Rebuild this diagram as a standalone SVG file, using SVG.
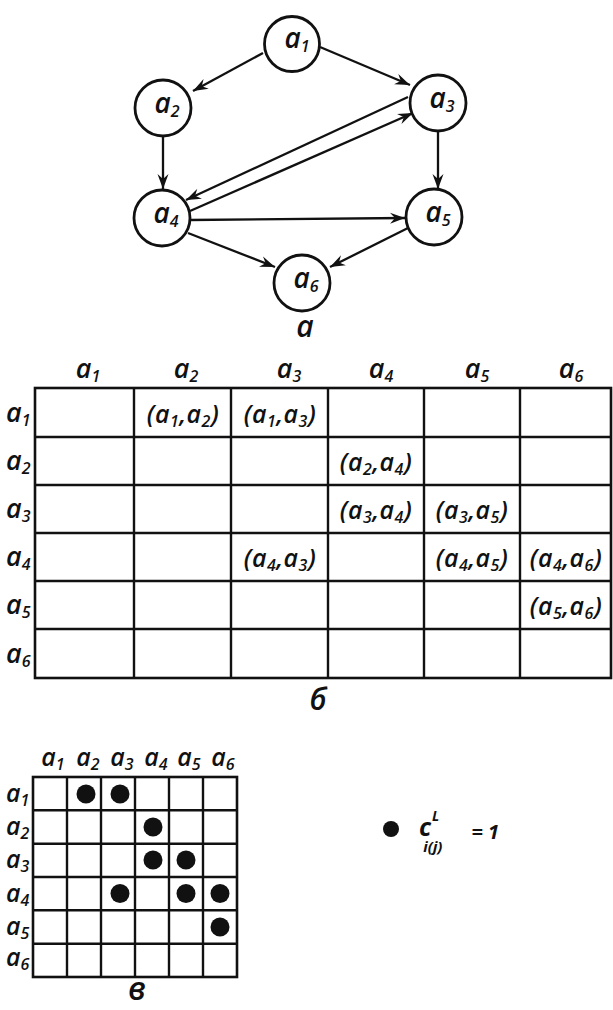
<svg xmlns="http://www.w3.org/2000/svg" width="613" height="1010" viewBox="0 0 613 1010">
<style>
text{font-family:"Open Sans","DejaVu Sans",sans-serif;font-style:italic;font-weight:600;fill:#111}
.nl{font-size:28px}
.tl{font-size:27px}
.cl{font-size:25px;letter-spacing:0.5px}
.ml{font-size:25px}
.s{font-size:16px}
.node circle{fill:#fff;stroke:#111;stroke-width:2.8}
.edge{stroke:#111;stroke-width:2.3;fill:none;marker-end:url(#ah)}
.grid line{stroke:#111;stroke-width:2.4}
.grid rect{fill:none;stroke:#111;stroke-width:2.6}
.dot{fill:#111}
.cap{font-size:30px}
.lg{font-weight:700}
</style>
<defs>
<marker id="ah" markerUnits="userSpaceOnUse" viewBox="-16 -6 17 12" markerWidth="17" markerHeight="12" refX="0" refY="0" orient="auto">
<path d="M0,0 L-15,-5.5 L-10,0 L-15,5.5 Z" fill="#111"/>
</marker>
</defs>
<rect width="613" height="1010" fill="#fff"/>

<g id="connectors">
<line class="edge" x1="263" y1="53" x2="193" y2="91"/>
<line class="edge" x1="320" y1="47" x2="410" y2="85"/>
<line class="edge" x1="163" y1="136" x2="163" y2="189"/>
<line class="edge" x1="438" y1="131" x2="438" y2="189"/>
<line class="edge" x1="408" y1="97" x2="186" y2="200"/>
<line class="edge" x1="190" y1="211" x2="413" y2="113"/>
<line class="edge" x1="190" y1="220" x2="405" y2="218"/>
<line class="edge" x1="188" y1="233" x2="275" y2="267"/>
<line class="edge" x1="408" y1="228" x2="330" y2="267"/>
</g>

<g id="a1" class="node"><circle cx="292" cy="44" r="27.5"/><text class="nl" x="297" y="48" text-anchor="middle">a<tspan class="s" dy="4">1</tspan></text></g>
<g id="a2" class="node"><circle cx="163" cy="108" r="28"/><text class="nl" x="167" y="113" text-anchor="middle">a<tspan class="s" dy="4">2</tspan></text></g>
<g id="a3" class="node"><circle cx="438" cy="103" r="28"/><text class="nl" x="442" y="108" text-anchor="middle">a<tspan class="s" dy="4">3</tspan></text></g>
<g id="a4" class="node"><circle cx="162" cy="218" r="28"/><text class="nl" x="166" y="223" text-anchor="middle">a<tspan class="s" dy="4">4</tspan></text></g>
<g id="a5" class="node"><circle cx="434" cy="217" r="28"/><text class="nl" x="438" y="222" text-anchor="middle">a<tspan class="s" dy="4">5</tspan></text></g>
<g id="a6" class="node"><circle cx="302" cy="283" r="28"/><text class="nl" x="306" y="288" text-anchor="middle">a<tspan class="s" dy="4">6</tspan></text></g>
<text class="cap" x="305" y="337" text-anchor="middle">а</text>

<g id="table" class="grid">
<rect x="35" y="388" width="576" height="290"/>
<line x1="134" y1="388" x2="134" y2="678"/>
<line x1="231" y1="388" x2="231" y2="678"/>
<line x1="328" y1="388" x2="328" y2="678"/>
<line x1="424" y1="388" x2="424" y2="678"/>
<line x1="520" y1="388" x2="520" y2="678"/>
<line x1="35" y1="437" x2="611" y2="437"/>
<line x1="35" y1="485" x2="611" y2="485"/>
<line x1="35" y1="533" x2="611" y2="533"/>
<line x1="35" y1="581" x2="611" y2="581"/>
<line x1="35" y1="629" x2="611" y2="629"/>
</g>
<g id="table-labels">
<text class="tl" x="88" y="378" text-anchor="middle">a<tspan class="s" dy="4">1</tspan></text>
<text class="tl" x="186" y="378" text-anchor="middle">a<tspan class="s" dy="4">2</tspan></text>
<text class="tl" x="289" y="378" text-anchor="middle">a<tspan class="s" dy="4">3</tspan></text>
<text class="tl" x="381" y="378" text-anchor="middle">a<tspan class="s" dy="4">4</tspan></text>
<text class="tl" x="477" y="378" text-anchor="middle">a<tspan class="s" dy="4">5</tspan></text>
<text class="tl" x="571" y="378" text-anchor="middle">a<tspan class="s" dy="4">6</tspan></text>
<text class="tl" x="6" y="422">a<tspan class="s" dy="4">1</tspan></text>
<text class="tl" x="6" y="470">a<tspan class="s" dy="4">2</tspan></text>
<text class="tl" x="6" y="518">a<tspan class="s" dy="4">3</tspan></text>
<text class="tl" x="6" y="566">a<tspan class="s" dy="4">4</tspan></text>
<text class="tl" x="6" y="614">a<tspan class="s" dy="4">5</tspan></text>
<text class="tl" x="6" y="663">a<tspan class="s" dy="4">6</tspan></text>
</g>
<g id="table-cells">
<text class="cl" x="183" y="423" text-anchor="middle">(a<tspan class="s" dy="4">1</tspan><tspan dy="-4">,a</tspan><tspan class="s" dy="4">2</tspan><tspan dy="-4">)</tspan></text>
<text class="cl" x="280" y="423" text-anchor="middle">(a<tspan class="s" dy="4">1</tspan><tspan dy="-4">,a</tspan><tspan class="s" dy="4">3</tspan><tspan dy="-4">)</tspan></text>
<text class="cl" x="376" y="471" text-anchor="middle">(a<tspan class="s" dy="4">2</tspan><tspan dy="-4">,a</tspan><tspan class="s" dy="4">4</tspan><tspan dy="-4">)</tspan></text>
<text class="cl" x="376" y="519" text-anchor="middle">(a<tspan class="s" dy="4">3</tspan><tspan dy="-4">,a</tspan><tspan class="s" dy="4">4</tspan><tspan dy="-4">)</tspan></text>
<text class="cl" x="472" y="519" text-anchor="middle">(a<tspan class="s" dy="4">3</tspan><tspan dy="-4">,a</tspan><tspan class="s" dy="4">5</tspan><tspan dy="-4">)</tspan></text>
<text class="cl" x="280" y="567" text-anchor="middle">(a<tspan class="s" dy="4">4</tspan><tspan dy="-4">,a</tspan><tspan class="s" dy="4">3</tspan><tspan dy="-4">)</tspan></text>
<text class="cl" x="472" y="567" text-anchor="middle">(a<tspan class="s" dy="4">4</tspan><tspan dy="-4">,a</tspan><tspan class="s" dy="4">5</tspan><tspan dy="-4">)</tspan></text>
<text class="cl" x="566" y="567" text-anchor="middle">(a<tspan class="s" dy="4">4</tspan><tspan dy="-4">,a</tspan><tspan class="s" dy="4">6</tspan><tspan dy="-4">)</tspan></text>
<text class="cl" x="566" y="615" text-anchor="middle">(a<tspan class="s" dy="4">5</tspan><tspan dy="-4">,a</tspan><tspan class="s" dy="4">6</tspan><tspan dy="-4">)</tspan></text>
</g>
<text class="cap" x="318" y="710" text-anchor="middle">б</text>

<g id="matrix" class="grid">
<rect x="33" y="777" width="204" height="200"/>
<line x1="67" y1="777" x2="67" y2="977"/>
<line x1="101" y1="777" x2="101" y2="977"/>
<line x1="135" y1="777" x2="135" y2="977"/>
<line x1="169" y1="777" x2="169" y2="977"/>
<line x1="203" y1="777" x2="203" y2="977"/>
<line x1="33" y1="810.3" x2="237" y2="810.3"/>
<line x1="33" y1="843.7" x2="237" y2="843.7"/>
<line x1="33" y1="877" x2="237" y2="877"/>
<line x1="33" y1="910.3" x2="237" y2="910.3"/>
<line x1="33" y1="943.7" x2="237" y2="943.7"/>
</g>
<g id="matrix-labels">
<text class="ml" x="53" y="766" text-anchor="middle">a<tspan class="s" dy="4">1</tspan></text>
<text class="ml" x="88" y="766" text-anchor="middle">a<tspan class="s" dy="4">2</tspan></text>
<text class="ml" x="122" y="766" text-anchor="middle">a<tspan class="s" dy="4">3</tspan></text>
<text class="ml" x="156" y="766" text-anchor="middle">a<tspan class="s" dy="4">4</tspan></text>
<text class="ml" x="189" y="766" text-anchor="middle">a<tspan class="s" dy="4">5</tspan></text>
<text class="ml" x="223" y="766" text-anchor="middle">a<tspan class="s" dy="4">6</tspan></text>
<text class="ml" x="6" y="802">a<tspan class="s" dy="4">1</tspan></text>
<text class="ml" x="6" y="835">a<tspan class="s" dy="4">2</tspan></text>
<text class="ml" x="6" y="868">a<tspan class="s" dy="4">3</tspan></text>
<text class="ml" x="6" y="902">a<tspan class="s" dy="4">4</tspan></text>
<text class="ml" x="6" y="935">a<tspan class="s" dy="4">5</tspan></text>
<text class="ml" x="6" y="966">a<tspan class="s" dy="4">6</tspan></text>
</g>
<g id="matrix-dots">
<circle class="dot" cx="86" cy="794" r="9.5"/>
<circle class="dot" cx="120" cy="794" r="9.5"/>
<circle class="dot" cx="153" cy="827" r="9.5"/>
<circle class="dot" cx="153" cy="860" r="9.5"/>
<circle class="dot" cx="186" cy="860" r="9.5"/>
<circle class="dot" cx="120" cy="893.5" r="9.5"/>
<circle class="dot" cx="186" cy="893.5" r="9.5"/>
<circle class="dot" cx="220" cy="893.5" r="9.5"/>
<circle class="dot" cx="220" cy="927" r="9.5"/>
</g>
<text class="cap" x="137" y="1000" style="font-size:32px" text-anchor="middle">в</text>

<g id="legend">
<circle class="dot" cx="391" cy="829" r="8"/>
<text class="lg" x="419" y="836" style="font-size:25px">c<tspan dx="1" dy="-15" style="font-size:14px">L</tspan><tspan dx="-16" dy="31" style="font-size:15px">i(j)</tspan><tspan dx="29" dy="-13" style="font-size:20px">= 1</tspan></text>
</g>
</svg>
